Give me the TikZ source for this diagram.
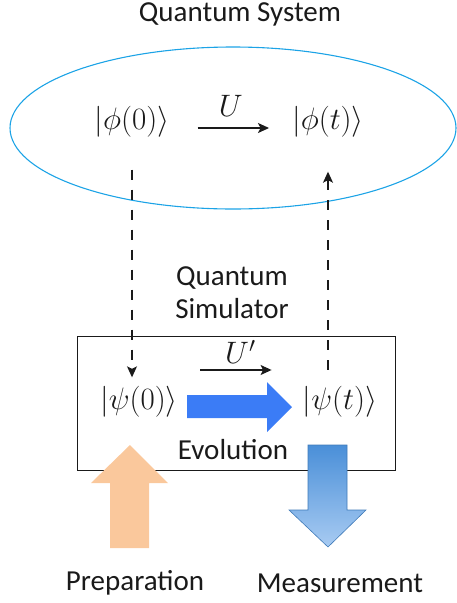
\documentclass[tikz,border=0pt]{standalone}
\usepackage{fix-cm}
\usepackage{fontspec}
\setmainfont{Carlito}
\usetikzlibrary{arrows.meta,positioning,calc,shapes.geometric}
\definecolor{sysblue}{HTML}{1CA3E6}
\definecolor{evoblue}{HTML}{3B7CF6}
\definecolor{prep}{HTML}{FAC89C}
\definecolor{meastop}{HTML}{4A8FD8}
\definecolor{measbot}{HTML}{A8CBF2}
\definecolor{ink}{HTML}{1A1A1A}
\tikzset{
  txt/.style={font=\fontsize{29}{33}\selectfont, text=ink, align=center, inner sep=0pt},
  ket/.style={font=\fontsize{31}{33}\selectfont, text=ink, inner sep=2pt},
  thinarrow/.style={-{Stealth[length=11pt,width=10pt,inset=2.5pt]}, line width=1.2pt, draw=ink},
  dasharrow/.style={thinarrow, dash pattern=on 10pt off 10pt},
  simbox/.style={draw=ink, line width=0.9pt, minimum width=318pt, minimum height=134pt, inner sep=0pt},
}

\begin{document}
\begin{tikzpicture}[x=1pt, y=-1pt]
\useasboundingbox (0,0) rectangle (457,603);
% quantum system
\node[txt] (systitle) at (240,14) {Quantum System};
\node[draw=sysblue, line width=1.1pt, ellipse, minimum width=446pt, minimum height=162pt, inner sep=0pt] (sys) at (233,128) {};
\node[ket] (phi0) at (132,122) {$|\phi(0)\rangle$};
\node[ket] (phit) at (328,122) {$|\phi(t)\rangle$};
\draw[thinarrow, shorten <=26pt, shorten >=21pt] ([yshift=-6pt]phi0.east) -- ([yshift=-6pt]phit.west)
  node[ket, midway, above=9pt] (U) {$U$};
% simulator
\node[txt] (simtitle) at (232,293) {Quantum\\Simulator};
\node[simbox] (sim) at (236,403) {};
\node[ket] (psi0) at (139,402) {$|\psi(0)\rangle$};
\node[ket] (psit) at (340,402) {$|\psi(t)\rangle$};
\draw[thinarrow, shorten <=20pt, shorten >=29pt] ([yshift=32pt]psi0.east) -- ([yshift=32pt]psit.west)
  node[ket, midway, above=4pt] (Up) {$U'$};
\fill[evoblue] (187,395) -- (267,395) -- (267,382) -- (292,407) -- (267,432) -- (267,418) -- (187,418) -- cycle;
\node[txt] (evo) at (233,450) {Evolution};
% mapping
\draw[dasharrow] ([yshift=-30pt]phi0.south) -- ([yshift=7pt]psi0.north -| phi0.south);
\draw[dasharrow] ([yshift=-230pt]phit.south) -- ([yshift=-32pt]phit.south);
% preparation and measurement
\fill[prep] (110,548) -- (110,483) -- (91,483) -- (130,445) -- (168,483) -- (149,483) -- (149,548) -- cycle;
\shade[top color=meastop, bottom color=measbot, draw=meastop!85!black, line width=0.6pt]
  (308,445) -- (347,445) -- (347,510) -- (366,510) -- (328,547) -- (289,510) -- (308,510) -- cycle;
\node[txt] (prepl) at (135,583) {Preparation};
\node[txt] (measl) at (340,583) {Measurement};
\end{tikzpicture}
\end{document}
